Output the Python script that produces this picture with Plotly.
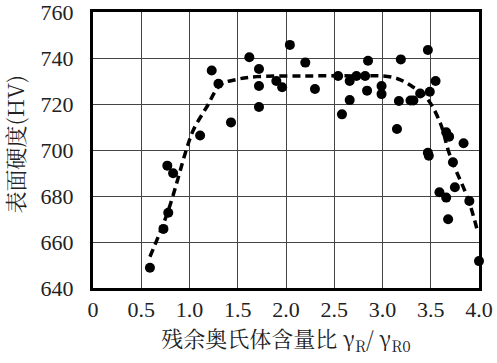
import plotly.graph_objects as go

# Scatter data: residual austenite ratio vs surface hardness
pts_x = [0.59, 0.73, 0.77, 0.78, 0.83, 1.11, 1.23, 1.30, 1.43, 1.62, 1.72, 1.72, 1.72,
         1.90, 1.96, 2.04, 2.20, 2.30, 2.54, 2.58, 2.66, 2.66, 2.73, 2.82, 2.84, 2.85,
         2.99, 2.99, 3.15, 3.17, 3.19, 3.29, 3.32, 3.39, 3.47, 3.47, 3.48, 3.49, 3.55,
         3.59, 3.66, 3.66, 3.68, 3.69, 3.73, 3.75, 3.84, 3.90, 4.00]
pts_y = [648.8, 665.7, 693.2, 672.7, 689.9, 706.3, 734.6, 728.8, 712.0, 740.3, 735.2, 727.8, 718.7,
         730.0, 727.3, 745.7, 738.0, 726.5, 732.2, 715.5, 730.0, 721.7, 732.2, 732.2, 725.8, 738.8,
         727.8, 724.3, 709.1, 721.3, 739.4, 721.5, 721.5, 724.6, 743.5, 698.8, 697.5, 725.3, 730.0,
         681.6, 679.3, 707.7, 669.9, 705.8, 694.7, 683.8, 702.9, 677.8, 651.7]

# Fitted trend (dashed)
fit_x = [0.59, 0.78, 0.97, 1.04, 1.18, 1.32, 1.49, 1.70, 2.20, 2.70, 3.11, 3.32, 3.46, 3.60, 3.68, 3.73, 3.89, 3.99]
fit_y = [653.6, 673.7, 700.5, 708.7, 718.8, 728.3, 730.7, 731.9, 732.2, 732.2, 731.6, 727.3, 722.5, 711.6, 700.0, 694.2, 678.3, 663.8]

x_ticks = [0, 0.5, 1.0, 1.5, 2.0, 2.5, 3.0, 3.5, 4.0]
x_tick_text = ["0", "0.5", "1.0", "1.5", "2.0", "2.5", "3.0", "3.5", "4.0"]
y_ticks = [640, 660, 680, 700, 720, 740, 760]

fig = go.Figure()
fig.add_trace(go.Scatter(x=fit_x, y=fit_y, mode="lines",
                         line=dict(color="black", width=3.5, dash="8px,5px", shape="spline"),
                         showlegend=False, cliponaxis=False))
fig.add_trace(go.Scatter(x=pts_x, y=pts_y, mode="markers",
                         marker=dict(color="black", size=10),
                         showlegend=False, cliponaxis=False))

tick_font = dict(family="Liberation Serif, Times New Roman, serif", size=22, color="#222")
title_font = dict(family="Noto Serif CJK SC, Noto Sans CJK SC, serif", size=22, color="#222")
fig.update_layout(
    width=497, height=363,
    margin=dict(l=93, r=18, t=12, b=75),
    paper_bgcolor="white", plot_bgcolor="white",
    xaxis=dict(range=[0, 4], tickvals=x_ticks, ticktext=x_tick_text, automargin=False,
               showgrid=True, gridcolor="#444", gridwidth=1,
               showline=True, linecolor="black", linewidth=3, mirror=True,
               ticks="", tickfont=tick_font, zeroline=False, ticklabeloverflow="allow",
               title=dict(text="残余奥氏体含量比 γ<sub>R</sub>/ γ<sub>R0</sub>",
                          font=title_font, standoff=8)),
    yaxis=dict(range=[640, 760], tickvals=y_ticks, automargin=False,
               showgrid=True, gridcolor="#444", gridwidth=1,
               showline=True, linecolor="black", linewidth=3, mirror=True,
               ticks="outside", ticklen=12, tickcolor="rgba(0,0,0,0)",
               tickfont=tick_font, zeroline=False, ticklabeloverflow="allow"),
    annotations=[dict(text="表面硬度(HV)", font=title_font, textangle=-90,
                      xref="paper", yref="paper", x=0, y=0.52, xanchor="center", yanchor="middle",
                      xshift=-79, showarrow=False)],
)
fig.write_html("out.html", config={"displayModeBar": False},
               post_script="document.body.style.margin='0';")
